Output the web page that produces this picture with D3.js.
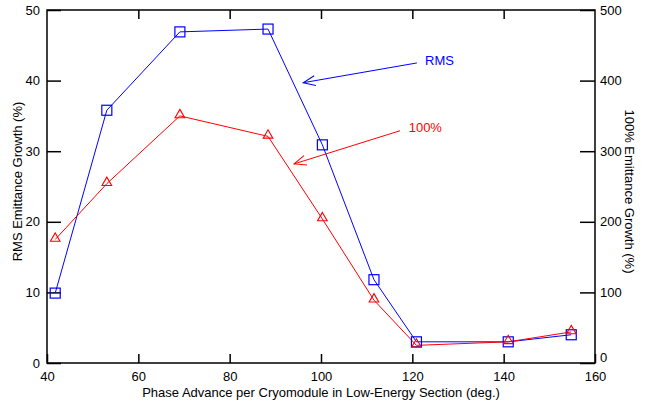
<!DOCTYPE html>
<html>
<head>
<meta charset="utf-8">
<script src="https://cdn.jsdelivr.net/npm/d3@7"></script>
<style>
body { margin: 0; background: #fff; }
text { font-family: "Liberation Sans", Arial, sans-serif; }
</style>
</head>
<body>
<div id="chart"></div>
<script>
// ##### data #####
var phase = [41.8, 53.1, 69.1, 88.4, 100.3, 111.6, 120.9, 141, 154.8];
var rmsGrowth = [9.9, 35.8, 46.9, 47.3, 30.9, 11.8, 3.0, 3.0, 4.0];
var fullGrowth = [175, 254, 350, 321, 204, 89, 25, 30, 44];
var xTicks = [40, 60, 80, 100, 120, 140, 160];
var yLeftTicks = [0, 10, 20, 30, 40, 50];
var yRightTicks = [0, 100, 200, 300, 400, 500];

var W = 646, H = 401;
var margin = {top: 10, right: 51, bottom: 38, left: 47};
var width = W - margin.left - margin.right;
var height = H - margin.top - margin.bottom;

var svg = d3.select("#chart").append("svg")
	.attr("width", W)
	.attr("height", H);

var defs = svg.append("defs");
["blue", "red"].forEach(function(c){
	defs.append("marker")
		.attr("id", "arr_" + c)
		.attr("viewBox", "0 0 14 12")
		.attr("refX", 13).attr("refY", 6)
		.attr("markerWidth", 14).attr("markerHeight", 12)
		.attr("markerUnits", "userSpaceOnUse")
		.attr("orient", "auto")
		.append("path")
		.attr("d", "M1,1 L13,6 L1,11")
		.attr("fill", "none")
		.attr("stroke", c)
		.attr("stroke-width", 1);
});

var g = svg.append("g").attr("transform", "translate(" + margin.left + "," + margin.top + ")");

var x = d3.scaleLinear().domain([40, 160]).range([0, width]);
var yL = d3.scaleLinear().domain([0, 50]).range([height, 0]);
var yR = d3.scaleLinear().domain([0, 500]).range([height, 0]);

// frame
g.append("rect")
	.attr("width", width).attr("height", height)
	.attr("fill", "none").attr("stroke", "#000").attr("stroke-width", 1.5);

function styleAxis(a) {
	a.select(".domain").remove();
	a.selectAll(".tick line").attr("stroke", "#000").attr("stroke-width", 1.5);
	a.selectAll(".tick text").attr("fill", "#000").style("font-size", "13px");
}

g.append("g")
	.attr("transform", "translate(0," + height + ")")
	.call(d3.axisBottom(x).tickValues(xTicks).tickSizeInner(-9).tickSizeOuter(0).tickPadding(9))
	.call(styleAxis);

g.append("g")
	.call(d3.axisTop(x).tickValues(xTicks.slice(1, -1)).tickSizeInner(-9).tickSizeOuter(0).tickFormat(""))
	.call(styleAxis);

g.append("g")
	.call(d3.axisLeft(yL).tickValues(yLeftTicks).tickSizeInner(-14).tickSizeOuter(0).tickPadding(7))
	.call(styleAxis);

g.append("g")
	.attr("transform", "translate(" + width + ",0)")
	.call(d3.axisRight(yR).tickValues(yRightTicks).tickSizeInner(-15).tickSizeOuter(0).tickPadding(5))
	.call(styleAxis);

// right zero label sits a bit higher in the original
g.selectAll(".tick text").filter(function(d){ return d === 0 && this.getAttribute("x") > 0; }).attr("dy", "-0.1em");

// axis titles
g.append("text")
	.attr("x", width / 2).attr("y", height + 34)
	.attr("text-anchor", "middle")
	.style("font-size", "13px")
	.text("Phase Advance per Cryomodule in Low-Energy Section (deg.)");

g.append("text")
	.attr("transform", "translate(-25," + (height / 2 - 5) + ") rotate(-90)")
	.attr("text-anchor", "middle")
	.style("font-size", "13px")
	.text("RMS Emittance Growth (%)");

g.append("text")
	.attr("transform", "translate(" + (width + 30) + "," + (height / 2 + 5) + ") rotate(90)")
	.attr("text-anchor", "middle")
	.style("font-size", "13px")
	.text("100% Emittance Growth (%)");

// series
var rmsData = phase.map(function(p, i){ return {x: p, y: rmsGrowth[i]}; });
var fullData = phase.map(function(p, i){ return {x: p, y: fullGrowth[i]}; });

var lineL = d3.line().x(function(d){ return x(d.x); }).y(function(d){ return yL(d.y); });
var lineR = d3.line().x(function(d){ return x(d.x); }).y(function(d){ return yR(d.y); });

g.append("path").datum(rmsData)
	.attr("d", lineL).attr("fill", "none").attr("stroke", "blue").attr("stroke-width", 1);

g.append("path").datum(fullData)
	.attr("d", lineR).attr("fill", "none").attr("stroke", "red").attr("stroke-width", 1);

g.selectAll(".sq").data(rmsData).enter().append("rect")
	.attr("class", "sq")
	.attr("x", function(d){ return x(d.x) - 5; })
	.attr("y", function(d){ return yL(d.y) - 5; })
	.attr("width", 10).attr("height", 10)
	.attr("fill", "none").attr("stroke", "blue").attr("stroke-width", 1.2);

var tri = d3.symbol().type(d3.symbolTriangle).size(40);
g.selectAll(".tri").data(fullData).enter().append("path")
	.attr("class", "tri")
	.attr("transform", function(d){ return "translate(" + x(d.x) + "," + (yR(d.y) - 1) + ")"; })
	.attr("d", tri)
	.attr("fill", "none").attr("stroke", "red").attr("stroke-width", 1.1);

// annotations with arrows (anchored in left-axis data units)
var notes = [
	{label: "RMS", color: "blue", tx: 122.8, ty: 42.9, from: [121.0, 42.5], to: [96.1, 39.7]},
	{label: "100%", color: "red", tx: 119.2, ty: 33.3, from: [117.3, 32.9], to: [94.1, 28.2]}
];
notes.forEach(function(n){
	g.append("line")
		.attr("x1", x(n.from[0])).attr("y1", yL(n.from[1]))
		.attr("x2", x(n.to[0])).attr("y2", yL(n.to[1]))
		.attr("stroke", n.color).attr("stroke-width", 1)
		.attr("marker-end", "url(#arr_" + n.color + ")");
	g.append("text")
		.attr("x", x(n.tx)).attr("y", yL(n.ty))
		.attr("dy", "0.35em")
		.attr("fill", n.color)
		.style("font-size", "13px")
		.text(n.label);
});
</script>
</body>
</html>
